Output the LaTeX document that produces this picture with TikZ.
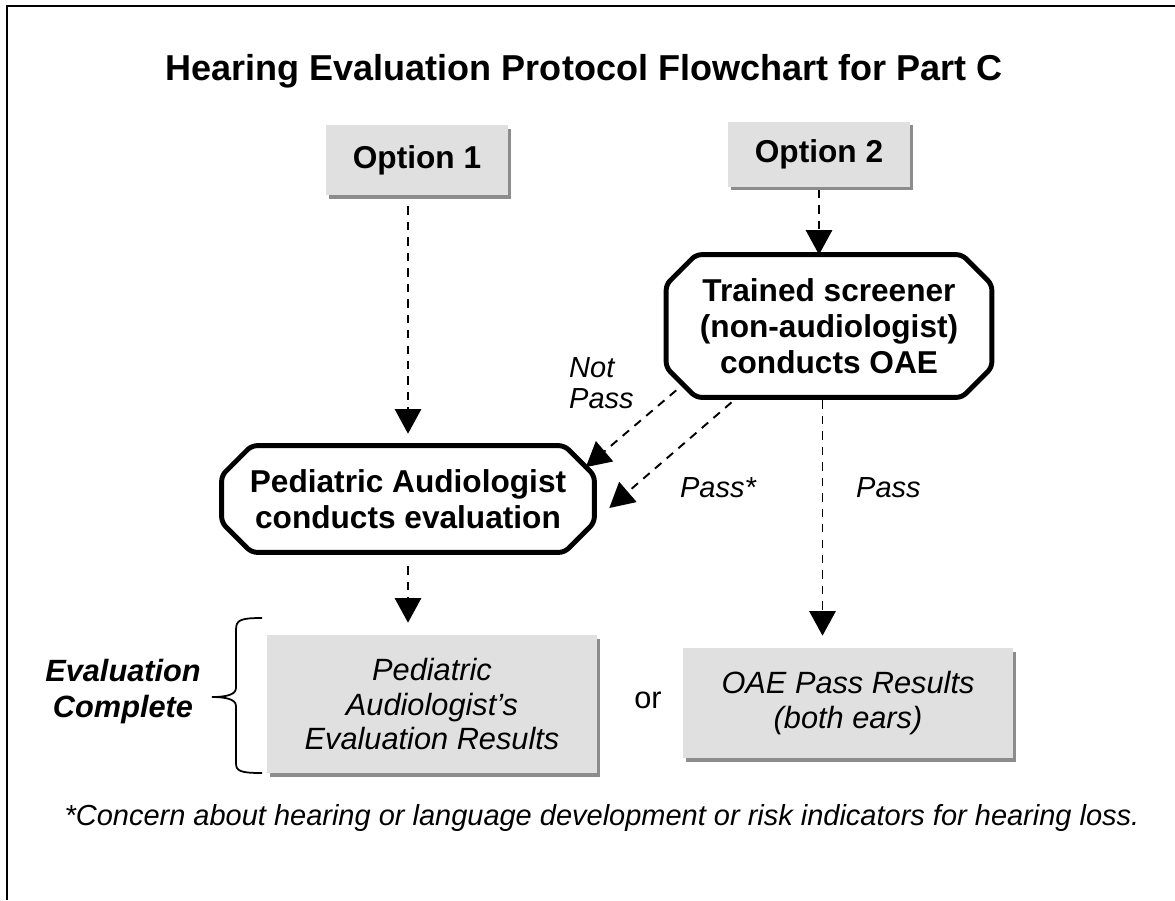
\documentclass[tikz,border=0pt]{standalone}
\usepackage{fontspec}
\setmainfont{Liberation Sans}
\usetikzlibrary{arrows.meta,shadows}
\definecolor{boxgray}{HTML}{E0E0E0}
\tikzset{
  optbox/.style={fill=boxgray, inner sep=0pt, align=center,
    drop shadow={shadow xshift=1.8pt, shadow yshift=-2.2pt, fill=black!75, opacity=0.6},
    font=\fontsize{18}{20}\selectfont\bfseries},
  procbox/.style={inner sep=0pt, align=center,
    font=\fontsize{18}{20.4}\selectfont\bfseries},
  snipline/.style={line width=2.8pt, rounded corners=3pt},
  resbox/.style={fill=boxgray, inner sep=0pt, align=center,
    drop shadow={shadow xshift=1.8pt, shadow yshift=-2.2pt, fill=black!75, opacity=0.6},
    font=\fontsize{17.5}{19.6}\selectfont\itshape},
  flow/.style={dash pattern=on 4.8pt off 4pt, line width=1.1pt,
    -{Triangle[length=14pt, width=15pt]}},
  lbl/.style={font=\fontsize{16.5}{17.5}\selectfont\itshape}
}
\begin{document}
\begin{tikzpicture}[x=0.02cm, y=-0.02cm]
\useasboundingbox (0,0) rectangle (1175,900);
\draw[line width=1.1pt] (7,900) -- (7,6) -- (1175,6);
\node[font=\fontsize{20.5}{24}\selectfont\bfseries] (title) at (584,71) {Hearing Evaluation Protocol Flowchart for Part C};

% options and steps
\node[optbox, minimum width=3.64cm, minimum height=1.4cm] (opt1) at (417,160) {Option 1};
\node[optbox, minimum width=3.64cm, minimum height=1.3cm] (opt2) at (819,154) {Option 2};
\node[procbox, minimum width=6.5cm, minimum height=2.84cm] (scr) at (829,326) {Trained screener\\(non-audiologist)\\conducts OAE};
\node[procbox, minimum width=7.44cm, minimum height=2.12cm] (ped) at (408,499) {Pediatric Audiologist\\conducts evaluation};
\node[resbox, minimum width=6.6cm, minimum height=2.76cm] (res1) at (432,704) {Pediatric\\Audiologist's\\Evaluation Results};
\node[resbox, minimum width=6.6cm, minimum height=2.2cm] (res2) at (848,703) {OAE Pass Results\\(both ears)};

% snipped corners
\foreach \n in {scr,ped}
  \draw[snipline] ([xshift=17pt]\n.north west) -- ([xshift=-17pt]\n.north east)
    -- ([yshift=-17pt]\n.north east) -- ([yshift=17pt]\n.south east)
    -- ([xshift=-17pt]\n.south east) -- ([xshift=17pt]\n.south west)
    -- ([yshift=17pt]\n.south west) -- ([yshift=-17pt]\n.north west) -- cycle;

% arrows
\draw[flow, shorten <=0.22cm, shorten >=0.24cm] (opt1.south -| ped.north) -- (ped.north);
\draw[flow, shorten <=0.06cm] (opt2.south) -- (opt2.south |- scr.north);
\draw[flow, shorten <=0.28cm, shorten >=0.24cm] (ped.south) -- (ped.south |- res1.north);
\draw[flow] ([shift={(0.2cm,0.14cm)}]scr.south west) -- ([shift={(-0.17cm,-0.43cm)}]ped.north east);
\draw[flow] ([shift={(-1.95cm,-0.1cm)}]scr.south) -- ([shift={(0.3cm,-0.18cm)}]ped.east);
\draw[flow, shorten <=0.06cm, shorten >=0.24cm] ([xshift=-0.13cm]scr.south) -- ([xshift=-0.13cm]scr.south |- res2.north);

% labels
\node[lbl, align=left, anchor=west] (notpass) at (563,383) {Not\\Pass};
\node[lbl] (passstar) at (718,488) {Pass*};
\node[lbl, anchor=west] (pass) at (850,488) {Pass};
\node[font=\fontsize{17.5}{20.5}\selectfont\bfseries\itshape, align=center] (evalc) at (123,692) {Evaluation\\Complete};
\node[font=\fontsize{17.5}{20}\selectfont] (or) at (648,700) {or};
\draw[line width=1pt] (262,618) .. controls (240,618) and (236,620) .. (236,630) -- (236,688)
  .. controls (236,695) and (225,697) .. (212,697) .. controls (225,697) and (236,699) .. (236,706)
  -- (236,763) .. controls (236,771) and (240,773) .. (262,773);
\node[lbl] (note) at (602,818) {*Concern about hearing or language development or risk indicators for hearing loss.};
\end{tikzpicture}
\end{document}
